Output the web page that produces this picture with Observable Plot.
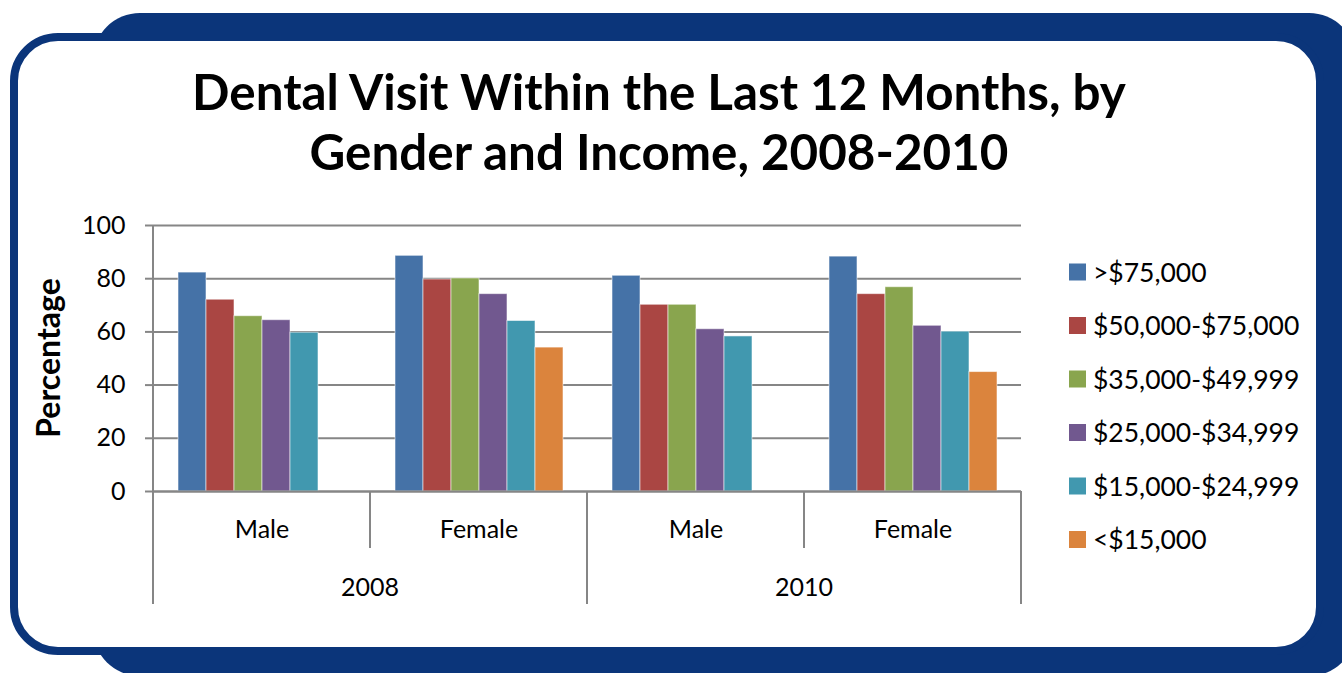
<!DOCTYPE html>
<html>
<head>
<meta charset="utf-8">
<script src="https://cdn.jsdelivr.net/npm/d3@7"></script>
<script src="https://cdn.jsdelivr.net/npm/@observablehq/plot@0.6"></script>
<style>
html, body { margin: 0; padding: 0; background: #fff; }
#page { position: relative; width: 1342px; height: 673px; overflow: hidden; font-family: Lato, "Open Sans", sans-serif; }
#decor { position: absolute; left: 0; top: 0; }
#chart { position: absolute; left: 0; top: 200px; }
#over { position: absolute; left: 0; top: 0; pointer-events: none; }
</style>
</head>
<body>
<div id="page">
  <svg id="decor" width="1342" height="673">
    <rect x="93" y="13" width="1263" height="663" rx="47" fill="#0b357a"/>
    <rect x="14" y="37" width="1306" height="614" rx="44" fill="#ffffff" stroke="#0b357a" stroke-width="8"/>
  </svg>
  <div id="chart"></div>
  <svg id="over" width="1342" height="673"></svg>
</div>
<script>
// ---- data ----
const titleLines = ["Dental Visit Within the Last 12 Months, by", "Gender and Income, 2008-2010"];
const yLabel = "Percentage";
const years = ["2008", "2010"];
const genders = ["Male", "Female"];
const incomes = [">$75,000", "$50,000-$75,000", "$35,000-$49,999", "$25,000-$34,999", "$15,000-$24,999", "<$15,000"];
const incomeColors = ["#4572a7", "#aa4643", "#89a54e", "#71588f", "#4198af", "#db843d"];
const male2008   = [82.3, 72.1, 65.9, 64.4, 59.7, null];
const female2008 = [88.6, 79.7, 80.1, 74.2, 64.1, 54.1];
const male2010   = [81.1, 70.2, 70.2, 61.0, 58.3, null];
const female2010 = [88.3, 74.2, 76.8, 62.3, 60.1, 44.9];
const yTicks = [0, 20, 40, 60, 80, 100];

// ---- table ----
const series = { "2008|Male": male2008, "2008|Female": female2008, "2010|Male": male2010, "2010|Female": female2010 };
const groups = years.flatMap(yr => genders.map(g => `${yr}|${g}`));
const rows = groups.flatMap(k => incomes.map((inc, i) => ({ group: k, income: inc, value: series[k][i] })))
  .filter(d => d.value != null);

const GRID = "#868686";

const plot = Plot.plot({
  width: 1342,
  height: 420,
  marginTop: 25,
  marginBottom: 129,
  marginLeft: 151,
  marginRight: 320,
  style: { background: "transparent", fontFamily: "Lato, 'Open Sans', sans-serif", color: "black", overflow: "visible" },
  fx: { domain: groups, padding: 0 },
  x: { domain: incomes, paddingInner: 0, paddingOuter: 0.755, axis: null },
  y: { domain: [0, 100] },
  color: { domain: incomes, range: incomeColors },
  marks: [
    Plot.ruleY(yTicks, { stroke: GRID, strokeWidth: 2 }),
    Plot.barY(rows, { fx: "group", x: "income", y: "value", fill: "income", stroke: "white", strokeOpacity: 0.55, strokeWidth: 1 }),
    Plot.ruleY([0], { stroke: GRID, strokeWidth: 2 }),
    Plot.axisY({ ticks: yTicks, tickSize: 8, tickPadding: 20, stroke: GRID, strokeWidth: 2, fill: "black", fontSize: 25, label: null }),
    Plot.axisFx({ anchor: "bottom", tickSize: 0, tickPadding: 29, fontSize: 25, fill: "black", label: null, tickFormat: k => k.split("|")[1] })
  ]
});
document.getElementById("chart").appendChild(plot);

// ---- two-level category axis separators and year labels, from Plot's scales ----
const fx = plot.scale("fx");
const ys = plot.scale("y");
const svg = d3.select(plot);
const y0 = ys.apply(0), y100 = ys.apply(100);
const bw = fx.bandwidth;
const edges = groups.map(k => fx.apply(k)).concat([fx.apply(groups[groups.length - 1]) + bw]);
edges.forEach((x, i) => {
  const long = i % 2 === 0;
  svg.append("line")
    .attr("x1", x).attr("x2", x)
    .attr("y1", i === 0 ? y100 : y0)
    .attr("y2", y0 + (long ? 113 : 57))
    .attr("stroke", GRID).attr("stroke-width", 2);
});
years.forEach((yr, j) => {
  const x = edges[2 * j + 1];
  svg.append("text")
    .attr("x", x).attr("y", y0 + 105)
    .attr("text-anchor", "middle")
    .attr("font-size", 25)
    .attr("fill", "black")
    .text(yr);
});

// ---- title, y label, legend ----
const over = d3.select("#over");
const t1 = over.append("text").attr("x", 659).attr("y", 110).attr("text-anchor", "middle")
  .attr("font-weight", 700).attr("font-size", 42).attr("font-family", "Lato, sans-serif").text(titleLines[0]);
const len = t1.node().getComputedTextLength();
const fs = 42 * 934 / len;
t1.attr("font-size", fs);
over.append("text").attr("x", 659).attr("y", 170).attr("text-anchor", "middle")
  .attr("font-weight", 700).attr("font-size", fs).attr("font-family", "Lato, sans-serif").text(titleLines[1]);

over.append("text").attr("transform", "translate(60,358) rotate(-90)").attr("text-anchor", "middle")
  .attr("font-weight", 700).attr("font-size", 32).attr("font-family", "Lato, sans-serif").text(yLabel);

const color = plot.scale("color");
incomes.forEach((inc, i) => {
  const cy = 272 + i * 53.5;
  over.append("rect").attr("x", 1069).attr("y", cy - 8.5).attr("width", 17).attr("height", 17)
    .attr("fill", color.apply(inc));
  over.append("text").attr("x", 1093).attr("y", cy + 9.5).attr("font-size", 26.5)
    .attr("font-family", "Lato, sans-serif").attr("fill", "black").text(inc);
});
</script>
</body>
</html>
